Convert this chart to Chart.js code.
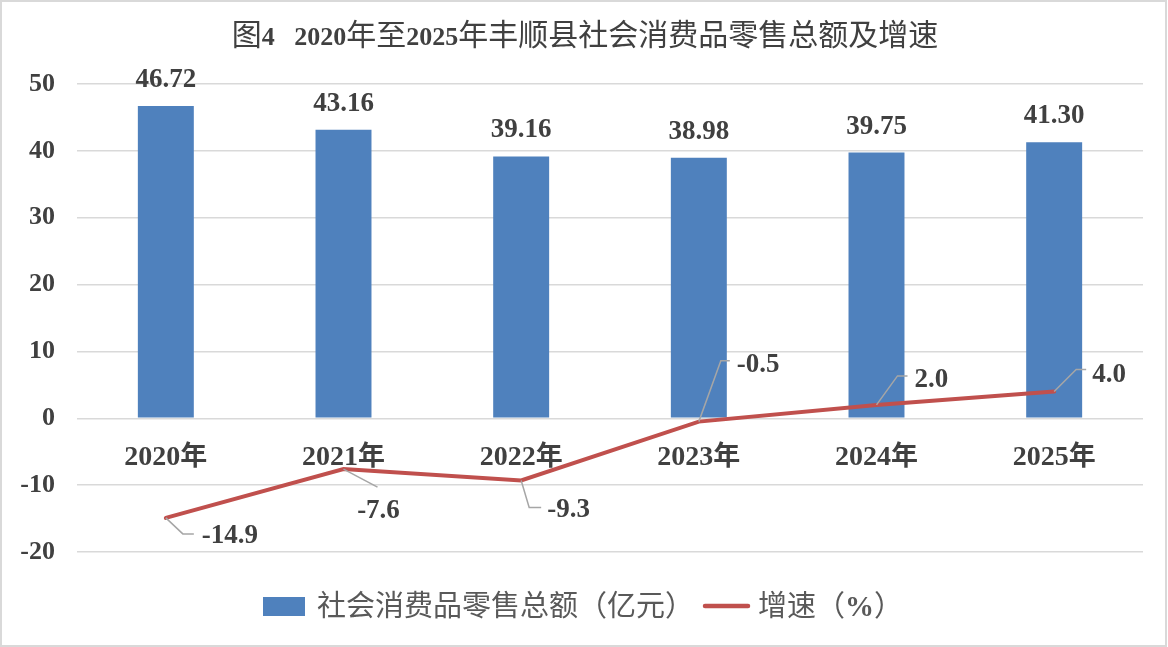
<!DOCTYPE html>
<html>
<head>
<meta charset="utf-8">
<script src="https://cdn.jsdelivr.net/npm/chart.js@4/dist/chart.umd.min.js"></script>
<style>
  html, body { margin: 0; padding: 0; background: #ffffff; }
  #wrap { width: 1168px; height: 647px; position: relative; }
</style>
</head>
<body>
<div id="wrap"><canvas id="c"></canvas></div>
<script>
// ---- data ----
const categories = ['2020年', '2021年', '2022年', '2023年', '2024年', '2025年'];
const salesValues = [46.72, 43.16, 39.16, 38.98, 39.75, 41.30];
const growthValues = [-14.9, -7.6, -9.3, -0.5, 2.0, 4.0];
const yTickValues = [-20, -10, 0, 10, 20, 30, 40, 50];
const titleText = '图4   2020年至2025年丰顺县社会消费品零售总额及增速';
const salesName = '社会消费品零售总额（亿元）';
const growthName = '增速（%）';

// ---- styling / layout (not data) ----
const BAR_COLOR = '#4F81BD';
const LINE_COLOR = '#C0504D';
const LEADER_COLOR = '#A6A6A6';
const TEXT_DARK = '#404040';
const TEXT_LEG = '#595959';
const LATIN = '"Liberation Serif", "Times New Roman", serif';
const CJK = '"Noto Sans CJK SC", "Noto Sans CJK JP", sans-serif';

// leader-line / label offsets for growth labels, relative to the point pixel
const growthLabelLayout = [
  { elbow: [17, 16], end: [28, 16], text: [36, 16], align: 'left' },
  { elbow: [34, 18], end: null, text: [35, 40], align: 'center' },
  { elbow: [8, 27], end: [20, 27], text: [26, 28], align: 'left' },
  { elbow: [22, -61], end: [31, -61], text: [38, -59], align: 'left' },
  { elbow: [21, -29], end: [31, -29], text: [38, -27], align: 'left' },
  { elbow: [22, -22], end: [32, -22], text: [38, -19], align: 'left' }
];

function splitRuns(text) {
  const out = [];
  for (const ch of text) {
    const cjk = /[\u2E80-\u9FFF\u3000-\u303F\uFF00-\uFFEF]/.test(ch);
    if (out.length && out[out.length - 1].cjk === cjk) out[out.length - 1].t += ch;
    else out.push({ t: ch, cjk });
  }
  return out;
}
function drawMixed(ctx, text, x, y, latinFont, cjkFont, color, align) {
  const rs = splitRuns(text);
  let w = 0;
  rs.forEach(r => { ctx.font = r.cjk ? cjkFont : latinFont; r.w = ctx.measureText(r.t).width; w += r.w; });
  let cx = align === 'center' ? x - w / 2 : (align === 'right' ? x - w : x);
  ctx.fillStyle = color;
  ctx.textAlign = 'left';
  ctx.textBaseline = 'alphabetic';
  rs.forEach(r => { ctx.font = r.cjk ? cjkFont : latinFont; ctx.fillText(r.t, cx, y); cx += r.w; });
  return w;
}

const decorPlugin = {
  id: 'decor',
  beforeDraw(chart) {
    const ctx = chart.ctx;
    ctx.save();
    ctx.fillStyle = '#ffffff';
    ctx.fillRect(0, 0, chart.width, chart.height);
    ctx.restore();
  },
  beforeDatasetsDraw(chart) {
    const ctx = chart.ctx;
    const xs = chart.scales.x, ys = chart.scales.y;
    const y0 = ys.getPixelForValue(0);
    ctx.save();
    categories.forEach((c, i) => {
      drawMixed(ctx, c, xs.getPixelForValue(i), y0 + 47,
        'bold 28px ' + LATIN, 'bold 27px ' + CJK, TEXT_DARK, 'center');
    });
    ctx.restore();
  },
  afterDatasetsDraw(chart) {
    const ctx = chart.ctx;
    ctx.save();
    // bar value labels
    const barMeta = chart.getDatasetMeta(0);
    ctx.font = 'bold 27px ' + LATIN;
    ctx.fillStyle = TEXT_DARK;
    ctx.textAlign = 'center';
    ctx.textBaseline = 'alphabetic';
    barMeta.data.forEach((el, i) => {
      ctx.fillText(salesValues[i].toFixed(2), el.x, el.y - 19);
    });
    // growth labels with leader lines
    const lineMeta = chart.getDatasetMeta(1);
    lineMeta.data.forEach((el, i) => {
      const L = growthLabelLayout[i];
      ctx.strokeStyle = LEADER_COLOR;
      ctx.lineWidth = 1.5;
      ctx.beginPath();
      ctx.moveTo(el.x, el.y);
      ctx.lineTo(el.x + L.elbow[0], el.y + L.elbow[1]);
      if (L.end) ctx.lineTo(el.x + L.end[0], el.y + L.end[1]);
      ctx.stroke();
      ctx.font = 'bold 27px ' + LATIN;
      ctx.fillStyle = TEXT_DARK;
      ctx.textAlign = L.align;
      ctx.textBaseline = 'alphabetic';
      ctx.fillText(growthValues[i].toFixed(1), el.x + L.text[0], el.y + L.text[1] + 9);
    });
    ctx.restore();
  },
  afterDraw(chart) {
    const ctx = chart.ctx;
    ctx.save();
    // title
    drawMixed(ctx, titleText, 585, 45, 'bold 26px ' + LATIN, '30px ' + CJK, TEXT_DARK, 'center');
    // legend
    ctx.fillStyle = BAR_COLOR;
    ctx.fillRect(263, 597, 42, 19);
    drawMixed(ctx, salesName, 317, 616, '29px ' + LATIN, '29px ' + CJK, TEXT_LEG, 'left');
    ctx.strokeStyle = LINE_COLOR;
    ctx.lineWidth = 4.5;
    ctx.lineCap = 'round';
    ctx.beginPath();
    ctx.moveTo(705, 606);
    ctx.lineTo(748, 606);
    ctx.stroke();
    drawMixed(ctx, growthName, 758, 616, 'bold 29px ' + LATIN, '29px ' + CJK, TEXT_LEG, 'left');
    // outer border
    ctx.strokeStyle = '#D9D9D9';
    ctx.lineWidth = 2;
    ctx.lineCap = 'butt';
    ctx.strokeRect(1, 1, chart.width - 3, chart.height - 2);
    ctx.restore();
  }
};

new Chart(document.getElementById('c'), {
  data: {
    labels: categories,
    datasets: [
      {
        type: 'bar',
        label: salesName,
        data: salesValues,
        backgroundColor: BAR_COLOR,
        barPercentage: 0.315,
        categoryPercentage: 1.0,
        order: 1
      },
      {
        type: 'line',
        label: growthName,
        data: growthValues,
        borderColor: LINE_COLOR,
        backgroundColor: LINE_COLOR,
        borderWidth: 4,
        pointRadius: 0,
        tension: 0,
        borderCapStyle: 'round',
        order: 0
      }
    ]
  },
  options: {
    responsive: true,
    maintainAspectRatio: false,
    animation: false,
    devicePixelRatio: 1,
    layout: { padding: { left: 0, top: 84, right: 25, bottom: 95 } },
    plugins: { legend: { display: false }, title: { display: false }, tooltip: { enabled: false } },
    scales: {
      x: { display: false },
      y: {
        min: -20,
        max: 50,
        afterFit(scale) { scale.width = 77; },
        afterBuildTicks(scale) { scale.ticks = yTickValues.map(v => ({ value: v })); },
        border: { display: false },
        grid: { color: '#D9D9D9', lineWidth: 1.5, drawTicks: false },
        ticks: {
          padding: 22,
          color: TEXT_DARK,
          font: { family: LATIN, size: 26, weight: 'bold' },
          callback: v => String(v)
        }
      }
    }
  },
  plugins: [decorPlugin]
});
</script>
</body>
</html>
